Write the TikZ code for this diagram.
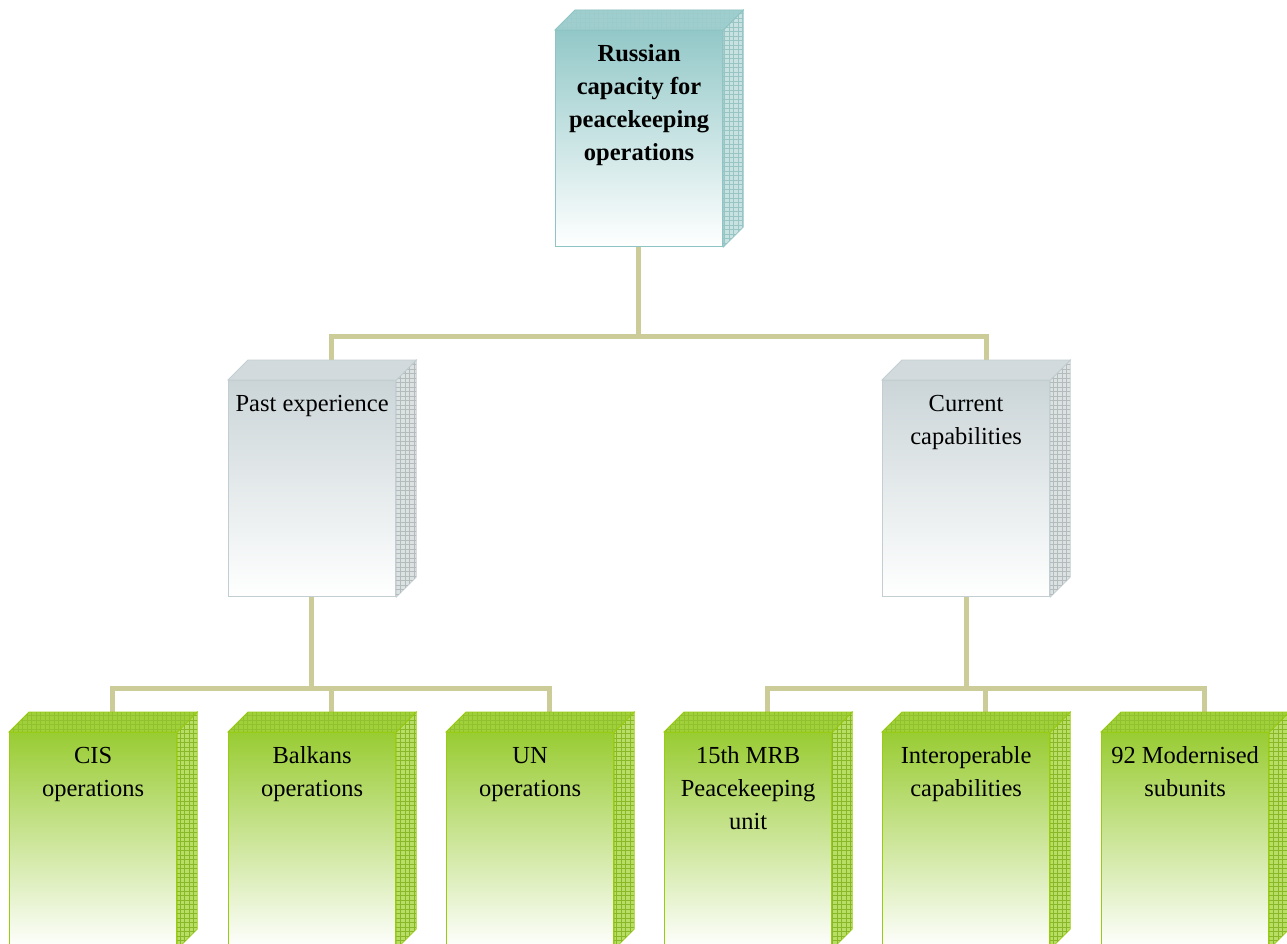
\documentclass[tikz,border=0pt]{standalone}
\usepackage{fontspec}
\setmainfont{Liberation Serif}
\definecolor{tealtop}{HTML}{93C8C8}
\definecolor{tealborder}{HTML}{8EC4C4}
\definecolor{tealside}{HTML}{C8E2E2}
\definecolor{tealgrid}{HTML}{98C4C4}
\definecolor{tealface}{HTML}{9FCECE}
\definecolor{graytop}{HTML}{CBD5D8}
\definecolor{grayborder}{HTML}{C2CED1}
\definecolor{grayside}{HTML}{DCE1E2}
\definecolor{graygrid}{HTML}{B3BBBD}
\definecolor{grayface}{HTML}{D2DADD}
\definecolor{greentop}{HTML}{99CC33}
\definecolor{greenborder}{HTML}{99CC11}
\definecolor{greenside}{HTML}{B8DE66}
\definecolor{greengrid}{HTML}{88B828}
\definecolor{greenface}{HTML}{A0D03A}
\definecolor{connc}{HTML}{CCCC99}
\tikzset{
  frontface/.style={shade, top color=#1top, middle color=#1top!45!white, bottom color=white,
    draw=#1border, line width=1.2pt, inner sep=0pt, anchor=north west,
    font=\fontsize{24.5}{33}\selectfont},
  conn/.style={draw=connc, line width=5pt},
}
\newcommand\boxtext[1]{\parbox[t][216pt][t]{167pt}{\centering\rule{0pt}{31pt}#1}}
\newcommand\mkcube[5]{%
  \node[frontface=#3] (#1) at #2 {\boxtext{#4}};
  \coordinate (#1-back) at ([shift={(20,-20)}]#1.north);
  \fill[#3side, draw=#3border, line width=0.8pt] (#1.north east) -- ++(20,-20)
     -- ([shift={(20,-20)}]#1.south east) -- (#1.south east) -- cycle;
  \begin{scope}
    \clip (#1.north east) -- ++(20,-20) -- ([shift={(20,-20)}]#1.south east) -- (#1.south east) -- cycle;
    \draw[#3grid, line width=0.35pt, step=4.5pt] ([shift={(0,-22)}]#1.north east) grid ([shift={(22,2)}]#1.south east);
  \end{scope}
  \fill[#3face, draw=#3border, line width=0.8pt] (#1.north west) -- ++(20,-20)
     -- ([shift={(20,-20)}]#1.north east) -- (#1.north east) -- cycle;
  \begin{scope}
    \clip (#1.north west) -- ++(20,-20) -- ([shift={(20,-20)}]#1.north east) -- (#1.north east) -- cycle;
    \draw[#3grid, line width=0.25pt, opacity=#5, step=4.5pt] ([shift={(0,-22)}]#1.north west) grid ([shift={(22,0)}]#1.north east);
  \end{scope}
}
\begin{document}
\begin{tikzpicture}[x=1pt, y=-1pt]
\useasboundingbox (0,0) rectangle (1287,944);
\clip (0,0) rectangle (1287,944);
\fill[white] (0,0) rectangle (1287,944);
% connectors
\coordinate (topbot) at (638.5,244);
\coordinate (pastbot) at (311.5,596);
\coordinate (currbot) at (966,596);
\draw[conn] (topbot) -- ++(0,92) -| (331.5,362);
\draw[conn] (topbot) -- ++(0,92) -| (986,362);
\draw[conn] (pastbot) -- ++(0,92) -| (112.5,712);
\draw[conn] (pastbot) -- ++(0,92) -| (331.5,712);
\draw[conn] (pastbot) -- ++(0,92) -| (549.5,712);
\draw[conn] (currbot) -- ++(0,92) -| (767.5,712);
\draw[conn] (currbot) -- ++(0,92) -| (985.5,712);
\draw[conn] (currbot) -- ++(0,92) -| (1204.5,712);
% boxes
\mkcube{top}{(555,30)}{teal}{\bfseries Russian\\capacity for\\peacekeeping\\operations}{0.25}
\mkcube{past}{(228,380)}{gray}{Past experience}{0}
\mkcube{curr}{(882,380)}{gray}{Current\\capabilities}{0}
\mkcube{cis}{(9,732)}{green}{CIS\\operations}{0.6}
\mkcube{balk}{(228,732)}{green}{Balkans\\operations}{0.6}
\mkcube{un}{(446,732)}{green}{UN\\operations}{0.6}
\mkcube{mrb}{(664,732)}{green}{15th MRB\\Peacekeeping\\unit}{0.6}
\mkcube{inter}{(882,732)}{green}{Interoperable\\capabilities}{0.6}
\mkcube{mod}{(1101,732)}{green}{92 Modernised\\subunits}{0.6}
\end{tikzpicture}
\end{document}
